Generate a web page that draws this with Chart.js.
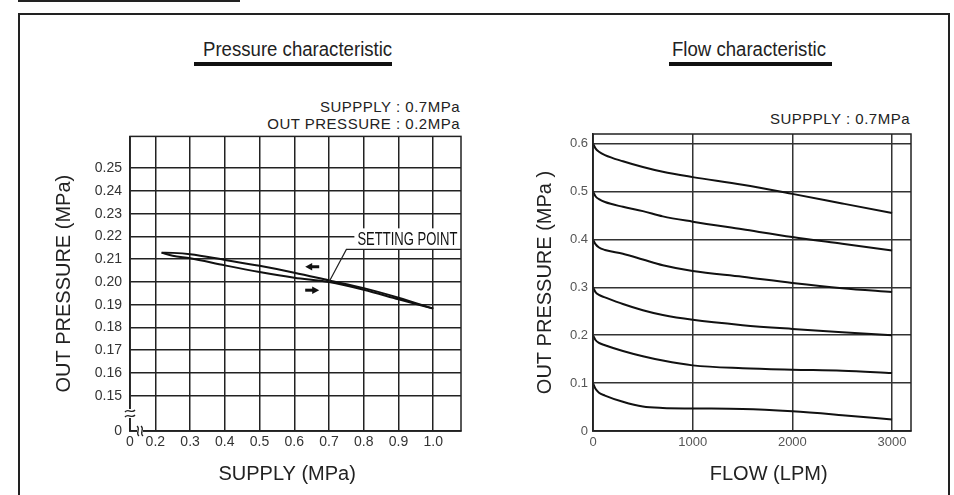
<!DOCTYPE html>
<html>
<head>
<meta charset="utf-8">
<script src="https://cdn.jsdelivr.net/npm/chart.js@4.4.0/dist/chart.umd.min.js"></script>
<style>
  body { margin: 0; width: 954px; height: 495px; overflow: hidden; background: #fff; position: relative;
         font-family: "Liberation Sans", Arial, sans-serif; color: #222; }
  .abs { position: absolute; }
  #topLine { left: 18px; top: 0; width: 222px; height: 2px; background: #222; }
  #frame { left: 18px; top: 13px; width: 928px; height: 520px; border: 2px solid #222; }
  .title { top: 39px; width: 200px; font-size: 20px; line-height: 20px; white-space: nowrap; text-align: center; transform: scaleX(0.93); }
  .bar { top: 62px; height: 4px; background: #111; }
  .sub { width: 300px; font-size: 15px; line-height: 15px; letter-spacing: 0.5px; text-align: right; white-space: nowrap; }
  .box { top: 120px; width: 445px; height: 375px; }
</style>
</head>
<body>
<div class="abs" id="topLine"></div>
<div class="abs" id="frame"></div>

<div class="abs title" style="left:196px">Pressure characteristic</div>
<div class="abs bar" style="left:194px;width:198px"></div>
<div class="abs sub" style="left:160px;top:99px">SUPPPLY : 0.7MPa</div>
<div class="abs sub" style="left:160px;top:116px">OUT PRESSURE : 0.2MPa</div>

<div class="abs title" style="left:649px">Flow characteristic</div>
<div class="abs bar" style="left:669px;width:163px"></div>
<div class="abs sub" style="left:610px;top:111px">SUPPPLY : 0.7MPa</div>

<div class="abs box" style="left:20px"><canvas id="pressureCanvas"></canvas></div>
<div class="abs box" style="left:483px"><canvas id="flowCanvas"></canvas></div>

<script>
// ---- Pressure characteristic (hysteresis loop) ----
const supplyTicks = [0.2, 0.3, 0.4, 0.5, 0.6, 0.7, 0.8, 0.9, 1.0];
const pressureTicks = [0.15, 0.16, 0.17, 0.18, 0.19, 0.20, 0.21, 0.22, 0.23, 0.24, 0.25];

const supplyLoop = [0.218, 0.25, 0.3, 0.4, 0.5, 0.6, 0.7, 0.8, 0.9, 1.0];
const outUpper = [0.2129, 0.2128, 0.2122, 0.2097, 0.2071, 0.2041, 0.2007, 0.1973, 0.1931, 0.1883];
const outLower = [0.2129, 0.2115, 0.2104, 0.2073, 0.2044, 0.2019, 0.2000, 0.1966, 0.1924, 0.1883];

const settingPoint = [0.7, 0.2];
const settingLabel = [0.75, 0.21435];
const arrowSupply = [0.6516, 0.6516];
const arrowOut = [0.2067, 0.1964];
const arrowDir = [-1, 1];

// ---- Flow characteristic ----
const flowTicks = [0, 1000, 2000, 3000];
const flowPressureTicks = [0, 0.1, 0.2, 0.3, 0.4, 0.5, 0.6];
const flowLpm = [0, 25, 60, 120, 300, 500, 700, 1000, 1500, 2000, 2500, 3000];
const out06 = [0.6, 0.59, 0.583, 0.576, 0.563, 0.551, 0.541, 0.53, 0.514, 0.495, 0.475, 0.455];
const out05 = [0.5, 0.49, 0.484, 0.478, 0.468, 0.459, 0.448, 0.437, 0.421, 0.405, 0.391, 0.377];
const out04 = [0.4, 0.39, 0.383, 0.378, 0.37, 0.358, 0.346, 0.334, 0.322, 0.309, 0.298, 0.29];
const out03 = [0.3, 0.29, 0.284, 0.279, 0.265, 0.252, 0.242, 0.232, 0.221, 0.213, 0.206, 0.2];
const out02 = [0.2, 0.19, 0.184, 0.179, 0.167, 0.156, 0.147, 0.137, 0.131, 0.128, 0.126, 0.121];
const out01 = [0.1, 0.088, 0.08, 0.074, 0.061, 0.051, 0.048, 0.047, 0.046, 0.041, 0.033, 0.024];

Chart.defaults.font.family = '"Liberation Sans", Arial, sans-serif';
Chart.defaults.color = '#333';

function pontos(xs, ys) {
    return xs.map(function (x, i) { return { x: x, y: ys[i] }; });
}

function serie(xs, ys) {
    return {
        data: pontos(xs, ys),
        borderColor: '#111',
        borderWidth: 2,
        pointRadius: 0,
        cubicInterpolationMode: 'monotone',
        fill: false
    };
}

function seta(ctx, px, py, dir) {
    // short thick arrow
    ctx.fillRect(Math.min(px - 7 * dir, px + 1 * dir), py - 1.5, 8, 3);
    ctx.beginPath();
    ctx.moveTo(px + 7 * dir, py);
    ctx.lineTo(px, py - 3.8);
    ctx.lineTo(px, py + 3.8);
    ctx.closePath();
    ctx.fill();
}

const pressureDecor = {
    id: 'pressureDecor',
    afterDraw(chart) {
        const { ctx, chartArea: a, scales: { x, y } } = chart;
        const sx = x.getPixelForValue(settingPoint[0]);
        const sy = y.getPixelForValue(settingPoint[1]);
        const lx = x.getPixelForValue(settingLabel[0]);
        const ly = y.getPixelForValue(settingLabel[1]);
        ctx.save();
        // white box behind the label
        ctx.fillStyle = '#fff';
        ctx.fillRect(lx + 8, ly - 21, a.right - lx - 8, 21);
        // plot frame
        ctx.strokeStyle = '#222';
        ctx.lineWidth = 1.5;
        ctx.strokeRect(a.left, a.top, a.right - a.left, a.bottom - a.top);
        // axis breaks
        ctx.fillStyle = '#fff';
        ctx.fillRect(a.left - 2, a.bottom - 22, 4, 9);
        ctx.fillRect(a.left + 7, a.bottom - 2, 6, 4);
        ctx.lineWidth = 1.3;
        [a.bottom - 20, a.bottom - 15].forEach(function (yy) {
            ctx.beginPath();
            ctx.moveTo(a.left - 5, yy + 1);
            ctx.bezierCurveTo(a.left - 2, yy - 3, a.left + 2, yy + 3, a.left + 5, yy - 1);
            ctx.stroke();
        });
        [a.left + 8, a.left + 12].forEach(function (xx) {
            ctx.beginPath();
            ctx.moveTo(xx - 1, a.bottom - 5);
            ctx.bezierCurveTo(xx + 3, a.bottom - 2, xx - 3, a.bottom + 2, xx + 1, a.bottom + 5);
            ctx.stroke();
        });
        // leader line + underline
        ctx.lineWidth = 1.2;
        ctx.beginPath();
        ctx.moveTo(sx, sy);
        ctx.lineTo(lx, ly);
        ctx.lineTo(a.right, ly);
        ctx.stroke();
        // arrows
        ctx.fillStyle = '#111';
        for (let i = 0; i < arrowDir.length; i++) {
            seta(ctx, x.getPixelForValue(arrowSupply[i]), y.getPixelForValue(arrowOut[i]), arrowDir[i]);
        }
        // label (condensed)
        ctx.font = '18.5px "Liberation Sans", Arial, sans-serif';
        ctx.textAlign = 'left';
        ctx.textBaseline = 'alphabetic';
        ctx.translate(lx + 11, ly - 4.4);
        ctx.scale(0.705, 1);
        ctx.fillText('SETTING POINT', 0, 0);
        ctx.restore();
    }
};

const flowDecor = {
    id: 'flowDecor',
    afterDraw(chart) {
        const { ctx, chartArea: a } = chart;
        ctx.save();
        ctx.strokeStyle = '#222';
        ctx.lineWidth = 1.5;
        ctx.strokeRect(a.left, a.top, a.right - a.left, a.bottom - a.top);
        ctx.restore();
    }
};

plotarGrafico_Pressao();
plotarGrafico_Vazao();

function plotarGrafico_Pressao() {
    const config = {
        type: 'line',
        data: {
            datasets: [serie(supplyLoop, outUpper), serie(supplyLoop, outLower)]
        },
        options: {
            animation: false,
            responsive: true,
            maintainAspectRatio: false,
            layout: { padding: { top: 14, right: 4, left: 0, bottom: 0 } },
            plugins: { legend: { display: false }, tooltip: { enabled: false } },
            scales: {
                x: {
                    type: 'linear',
                    min: 0.127,
                    max: 1.08,
                    afterBuildTicks: function (s) { s.ticks = [s.min].concat(supplyTicks).map(function (v) { return { value: v }; }); },
                    afterFit: function (s) { s.height = 64; },
                    ticks: {
                        callback: function (v) { return v < 0.15 ? '0' : v.toFixed(1); },
                        padding: 3, color: '#333', font: { size: 14 }, autoSkip: false, maxRotation: 0
                    },
                    grid: { color: '#222', lineWidth: 1.5, drawTicks: false },
                    border: { color: '#222', width: 1.5 },
                    title: { display: true, text: 'SUPPLY (MPa)   ', color: '#222', font: { size: 20 }, padding: { top: 0, bottom: 9 } }
                },
                y: {
                    min: 0.1345,
                    max: 0.264,
                    afterBuildTicks: function (s) { s.ticks = [s.min].concat(pressureTicks).map(function (v) { return { value: v }; }); },
                    afterFit: function (s) { s.width = 110; },
                    ticks: {
                        callback: function (v) { return v < 0.145 ? '0' : v.toFixed(2); },
                        padding: 8, color: '#333', font: { size: 14 }, autoSkip: false
                    },
                    grid: { color: '#222', lineWidth: 1.5, drawTicks: false },
                    border: { color: '#222', width: 1.5 },
                    title: { display: true, text: 'OUT PRESSURE (MPa)', color: '#222', font: { size: 20 }, padding: { top: 32, bottom: 0 } }
                }
            }
        },
        plugins: [pressureDecor]
    };

    let myChart = new Chart(document.getElementById('pressureCanvas'), config);
}

function plotarGrafico_Vazao() {
    const config = {
        type: 'line',
        data: {
            datasets: [
                serie(flowLpm, out06),
                serie(flowLpm, out05),
                serie(flowLpm, out04),
                serie(flowLpm, out03),
                serie(flowLpm, out02),
                serie(flowLpm, out01)
            ]
        },
        options: {
            animation: false,
            responsive: true,
            maintainAspectRatio: false,
            layout: { padding: { top: 14, right: 17, left: 0, bottom: 0 } },
            plugins: { legend: { display: false }, tooltip: { enabled: false } },
            scales: {
                x: {
                    type: 'linear',
                    min: 0,
                    max: 3190,
                    afterBuildTicks: function (s) { s.ticks = flowTicks.map(function (v) { return { value: v }; }); },
                    afterFit: function (s) { s.height = 64; },
                    ticks: {
                        callback: function (v) { return String(v); },
                        padding: 4, color: '#555', font: { size: 13 }, autoSkip: false, maxRotation: 0
                    },
                    grid: { color: '#333', lineWidth: 1.5, drawTicks: false },
                    border: { color: '#222', width: 1.5 },
                    title: { display: true, text: '      FLOW (LPM)', color: '#222', font: { size: 20 }, padding: { top: 0, bottom: 9 } }
                },
                y: {
                    min: 0,
                    max: 0.62,
                    afterBuildTicks: function (s) { s.ticks = flowPressureTicks.map(function (v) { return { value: v }; }); },
                    afterFit: function (s) { s.width = 110; },
                    ticks: {
                        callback: function (v) { return v === 0 ? '0' : v.toFixed(1); },
                        padding: 5, color: '#555', font: { size: 13 }, autoSkip: false
                    },
                    grid: { color: '#333', lineWidth: 1.5, drawTicks: false },
                    border: { color: '#222', width: 1.5 },
                    title: { display: true, text: 'OUT PRESSURE (MPa )', color: '#222', font: { size: 20 }, padding: { top: 50, bottom: 0 } }
                }
            }
        },
        plugins: [flowDecor]
    };

    let myChart = new Chart(document.getElementById('flowCanvas'), config);
}
</script>
</body>
</html>
